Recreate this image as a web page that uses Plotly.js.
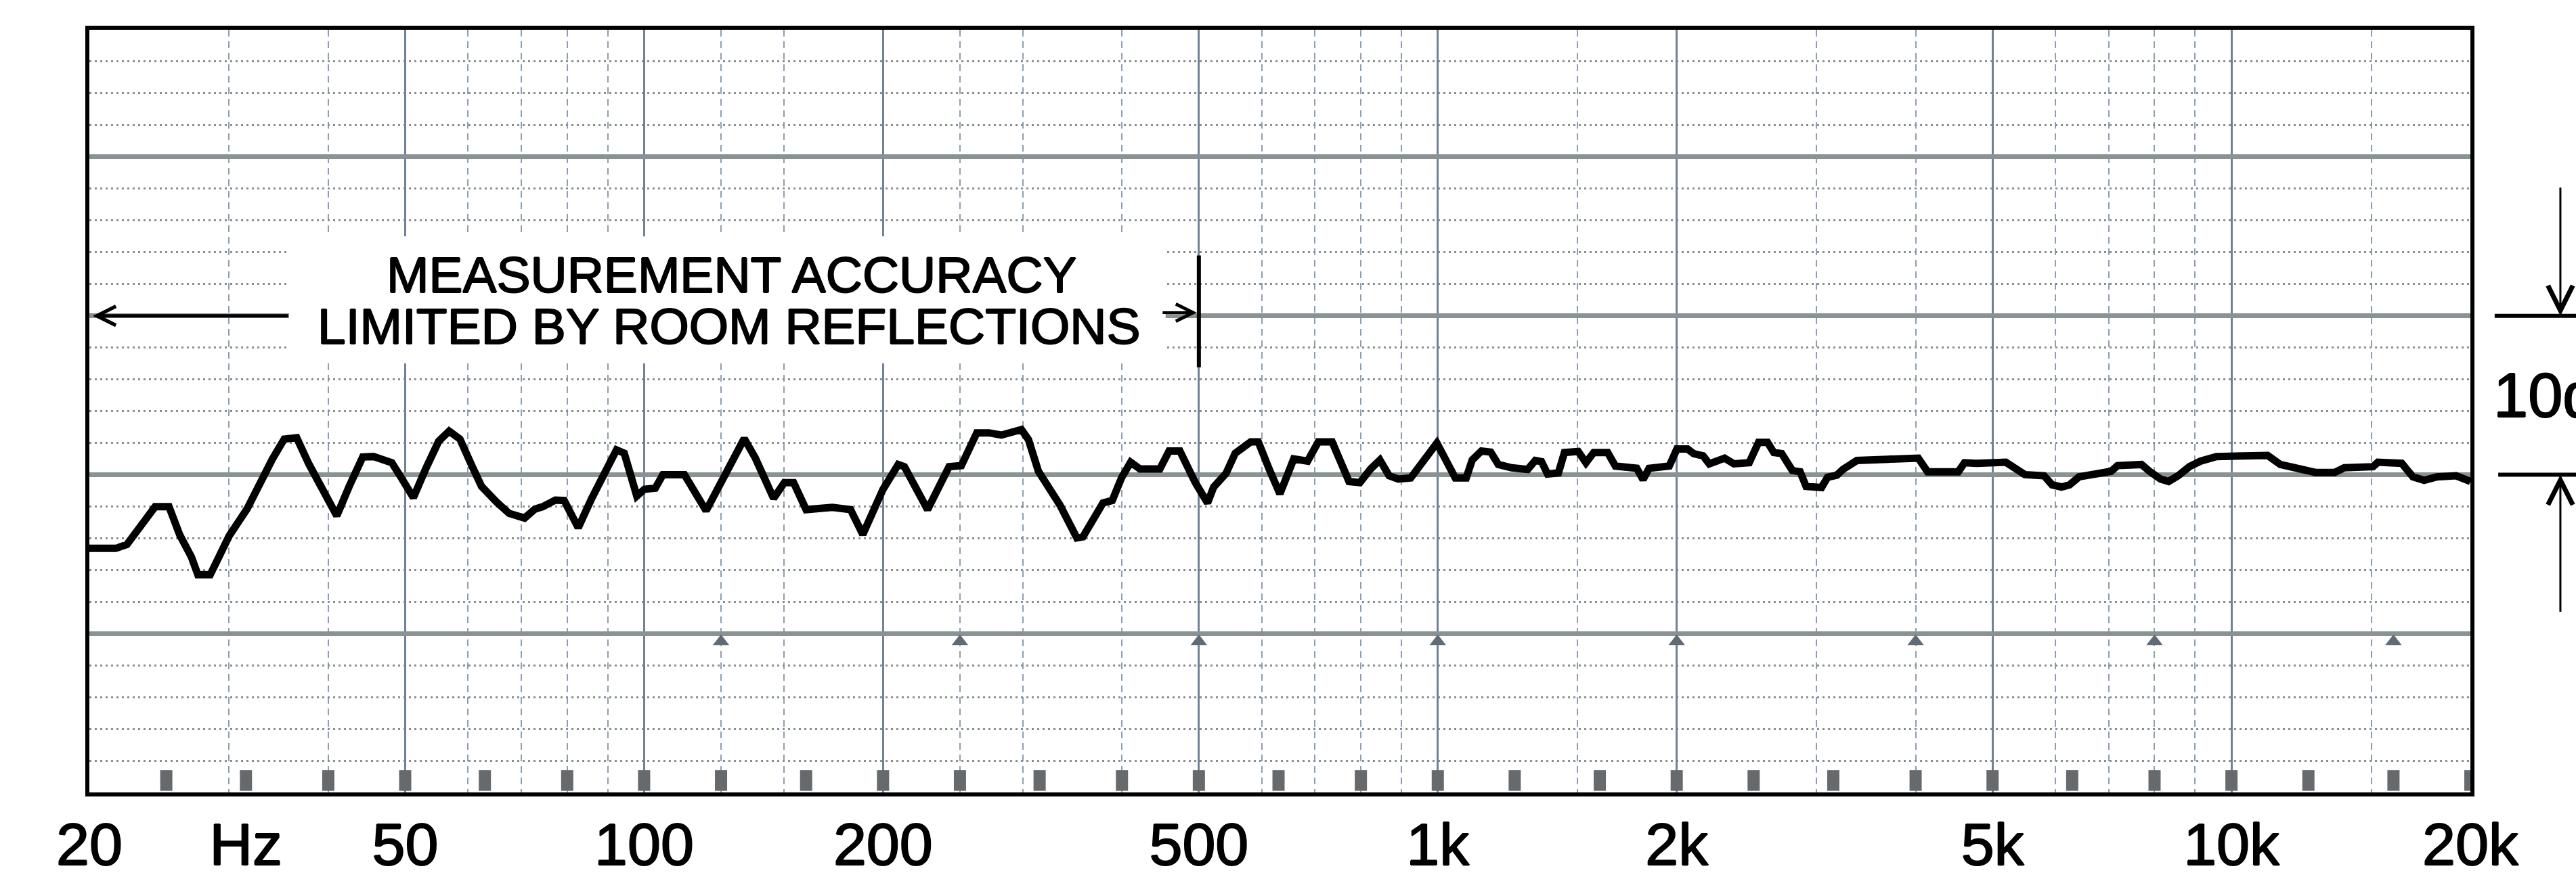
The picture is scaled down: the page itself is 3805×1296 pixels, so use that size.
<!DOCTYPE html>
<html><head><meta charset="utf-8">
<script src="https://cdn.plot.ly/plotly-3.0.1.min.js"></script>
<style>html,body{margin:0;padding:0;background:#fff;overflow:hidden}</style>
</head><body><div id="chart" style="width:3805px;height:1296px"></div>
<script>
// ---- data ----
const freqHz = [20,21.6,22.3,23.1,24.2,25.2,26.0,26.9,27.4,28.4,30.0,31.6,33.1,34.0,35.2,36.5,37.8,39.6,41.0,42.5,44.2,45.6,48.1,49.4,51.2,53.1,55.1,56.8,58.6,60.7,62.4,65.2,67.6,70.7,72.9,74.5,77.3,79.3,82.6,85.9,89.5,92.3,94.4,97.9,100.1,103.3,105.6,112.4,119.7,125.1,133.7,138.0,145.6,150.2,154.3,160.0,172.6,182.0,188.6,200,209,212.8,227.6,242.2,251,262.5,272,281.9,298.8,305,313.9,334.2,350.9,357.2,370.2,378.6,388.9,399.4,410.2,421.3,446.5,458.6,473.2,494.8,512.7,521.9,540.9,555.6,581.1,594.1,613,632.5,658.4,685.4,707,736,773,797.7,823,845.4,868.3,892,924.4,997.4,1052,1086,1105,1135,1166,1192,1239,1263,1298,1327,1351,1375,1419,1444,1503,1537,1572,1637,1674,1781,1814,1846,1957,2001,2064,2101,2159,2198,2298,2361,2468,2536,2603,2651,2712,2797,2861,2911,3044,3098,3183,3240,3373,3689,4031,4141,4527,4609,4777,5196,5317,5492,5806,5943,6110,6251,6427,6796,7052,7184,7702,7883,8143,8333,8568,8849,9141,9575,10125,11107,11523,12071,12760,13490,13870,15078,15290,16391,16930,17490,18150,19188,20000];
const levelDb = [15.36,15.36,15.6,16.7,17.98,17.98,16.2,14.8,13.7,13.7,16.14,17.84,19.97,20.97,22.24,22.32,20.68,18.84,17.41,19.26,21.11,21.14,20.75,19.83,18.55,20.4,22.1,22.74,22.24,20.54,19.26,18.27,17.56,17.27,17.84,17.98,18.4,18.37,16.66,18.51,20.36,21.56,21.35,18.65,19.08,19.15,20.0,20.0,17.73,19.64,22.27,21.07,18.51,19.5,19.5,17.8,17.94,17.8,16.24,19.08,20.64,20.5,17.8,20.5,20.57,22.63,22.63,22.49,22.84,22.2,20.21,18.08,16.02,16.09,17.51,18.22,18.37,19.79,20.78,20.36,20.36,21.49,21.49,19.5,18.22,19.22,20.07,21.35,22.06,22.06,20.36,18.79,20.99,20.85,22.06,22.06,19.57,19.5,20.36,20.92,19.93,19.72,19.79,21.99,19.79,19.79,20.92,21.49,21.42,20.64,20.43,20.4,20.33,20.89,20.82,20.04,20.11,21.39,21.46,20.75,21.39,21.39,20.54,20.4,19.69,20.4,20.54,21.61,21.61,21.32,21.18,20.68,21.04,20.68,20.75,22.03,22.03,21.39,21.32,20.26,20.18,19.26,19.19,19.83,19.97,20.33,20.89,20.97,21.04,20.18,20.18,20.75,20.71,20.78,20.5,20.0,19.93,19.36,19.22,19.36,19.86,20.0,20.21,20.57,20.64,20.21,19.72,19.57,19.93,20.5,20.85,21.14,21.21,21.21,20.64,20.36,20.14,20.14,20.43,20.5,20.78,20.71,19.86,19.64,19.86,19.93,19.57];

// ---- axis / paper furniture ----
const tickHz = [20, 31.5, 50, 100, 200, 500, 1000, 2000, 5000, 10000, 20000];
const tickText = ['20', 'Hz', '50', '100', '200', '500', '1k', '2k', '5k', '10k', '20k'];
const majorGridHz = [50, 100, 200, 500, 1000, 2000, 5000, 10000];
const minorGridHz = [30, 40, 60, 70, 80, 90, 125, 150, 250, 300, 400, 600, 700, 800, 900, 1500, 3000, 4000, 6000, 7000, 8000, 9000, 15000];
const octaveMarkHz = [125, 250, 500, 1000, 2000, 4000, 8000, 16000];
const thirdOctaveHz = [25, 31.5, 40, 50, 63, 80, 100, 125, 160, 200, 250, 315, 400, 500, 630, 800, 1000, 1250, 1600, 2000, 2500, 3150, 4000, 5000, 6300, 8000, 10000, 12500, 16000, 20000];
const dbRange = [0, 48];
const noteLines = ['MEASUREMENT ACCURACY', 'LIMITED BY ROOM REFLECTIONS'];
const accuracyLimitHz = 500;
const scaleLabel = '10dB';
const scaleSpanDb = [20, 30];

const FMIN = 20, FMAX = 20000;
const px = f => (Math.log10(f) - Math.log10(FMIN)) / (Math.log10(FMAX) - Math.log10(FMIN));
const font = 'Liberation Sans, Arial, Helvetica, sans-serif';
const heavy = '1px 0 0 #000, -1px 0 0 #000, 0 1px 0 #000, 0 -1px 0 #000';

const traces = [
  { // response curve
    x: freqHz, y: levelDb, type: 'scatter', mode: 'lines', xaxis: 'x', yaxis: 'y',
    line: { color: '#000', width: 11, shape: 'linear' }, hoverinfo: 'skip'
  },
  { // octave triangles on the 10 dB line
    x: octaveMarkHz, y: octaveMarkHz.map(() => 9.5), type: 'scatter', mode: 'markers',
    xaxis: 'x', yaxis: 'y',
    marker: { symbol: 'triangle-up', size: 21, color: '#5f6c78' }, hoverinfo: 'skip'
  },
  { // 1/3-octave markers on bottom edge (carries the label axis)
    x: thirdOctaveHz.flatMap(f => [f, f, null]),
    y: thirdOctaveHz.flatMap(() => [0.1, 1.4, null]),
    type: 'scatter', mode: 'lines', xaxis: 'x2', yaxis: 'y',
    line: { color: '#666a6d', width: 18 }, hoverinfo: 'skip'
  }
];

const layout = {
  width: 3805, height: 1296,
  margin: { l: 132, r: 156, t: 44, b: 125 },
  paper_bgcolor: '#fff', plot_bgcolor: '#fff',
  showlegend: false,
  xaxis: {
    type: 'log', range: [Math.log10(FMIN), Math.log10(FMAX)],
    tickmode: 'array', tickvals: majorGridHz, showticklabels: false, ticks: '',
    showgrid: true, gridcolor: '#6f8296', gridwidth: 3,
    minor: { tickmode: 'array', tickvals: minorGridHz, showgrid: true, gridcolor: '#8d9eb0', gridwidth: 2, griddash: '10px,7px', ticks: '' },
    showline: true, mirror: true, linecolor: '#000', linewidth: 6, zeroline: false, automargin: false
  },
  xaxis2: {
    type: 'log', range: [Math.log10(FMIN), Math.log10(FMAX)], overlaying: 'x', anchor: 'y', side: 'bottom',
    tickmode: 'array', tickvals: tickHz, ticktext: tickText, ticks: '',
    tickfont: { family: font, size: 88, color: '#000', shadow: heavy }, ticklabelstandoff: 18,
    showgrid: false, showline: false, zeroline: false, automargin: false
  },
  yaxis: {
    range: dbRange, tickmode: 'linear', tick0: 0, dtick: 10, showticklabels: false, ticks: '',
    showgrid: true, gridcolor: '#8a9393', gridwidth: 7,
    minor: { dtick: 2, tick0: 0, showgrid: true, gridcolor: '#879090', gridwidth: 3, griddash: '3px,5px', ticks: '' },
    showline: true, mirror: true, linecolor: '#000', linewidth: 6, zeroline: false, automargin: false
  },
  shapes: [
    { // white label box blanking the grid behind the note
      type: 'rect', xref: 'paper', yref: 'y', x0: px(35.7), x1: px(454), y0: 27.0, y1: 35.0,
      fillcolor: '#fff', line: { width: 0 }, layer: 'above'
    },
    { // stop bar at the accuracy limit
      type: 'line', xref: 'paper', yref: 'y', x0: px(accuracyLimitHz), x1: px(accuracyLimitHz), y0: 26.76, y1: 33.8,
      line: { color: '#000', width: 6 }, layer: 'above'
    },
    { type: 'line', xref: 'paper', yref: 'y', x0: 1.0102, x1: 1.06, y0: scaleSpanDb[1], y1: scaleSpanDb[1], line: { color: '#000', width: 6 } },
    { type: 'line', xref: 'paper', yref: 'y', x0: 1.0117, x1: 1.06, y0: scaleSpanDb[0], y1: scaleSpanDb[0], line: { color: '#000', width: 6 } }
  ],
  annotations: [
    { xref: 'paper', yref: 'y', x: 0.2698, y: 32.6, text: noteLines[0], showarrow: false,
      xanchor: 'center', yanchor: 'middle', font: { family: font, size: 75, color: '#000', shadow: heavy } },
    { xref: 'paper', yref: 'y', x: 0.2686, y: 29.36, text: noteLines[1], showarrow: false,
      xanchor: 'center', yanchor: 'middle', font: { family: font, size: 75, color: '#000', shadow: heavy } },
    { // left arrow to 20 Hz border
      xref: 'paper', yref: 'y', x: px(20.2), y: 30, text: '', showarrow: true, ax: 290, ay: 0,
      arrowhead: 5, arrowwidth: 5, arrowsize: 1.1, arrowcolor: '#000', standoff: 0
    },
    { // right arrow to the 500 Hz stop bar
      xref: 'paper', yref: 'y', x: px(497), y: 30.2, text: '', showarrow: true, ax: -52, ay: 0,
      arrowhead: 5, arrowwidth: 4, arrowsize: 1.25, arrowcolor: '#000', standoff: 0
    },
    { xref: 'paper', yref: 'y', x: 1.0091, y: 25, text: scaleLabel, showarrow: false,
      xanchor: 'left', yanchor: 'middle', font: { family: font, size: 92, color: '#000', shadow: heavy } },
    { xref: 'paper', yref: 'y', x: 1.0378, y: scaleSpanDb[1], text: '', showarrow: true, ax: 0, ay: -191,
      arrowhead: 5, arrowwidth: 3, arrowsize: 2.4, arrowcolor: '#000', standoff: 0 },
    { xref: 'paper', yref: 'y', x: 1.0378, y: scaleSpanDb[0], text: '', showarrow: true, ax: 0, ay: 204,
      arrowhead: 5, arrowwidth: 3, arrowsize: 2.4, arrowcolor: '#000', standoff: 0 }
  ]
};

Plotly.newPlot('chart', traces, layout, { staticPlot: true, displayModeBar: false });
</script></body></html>
